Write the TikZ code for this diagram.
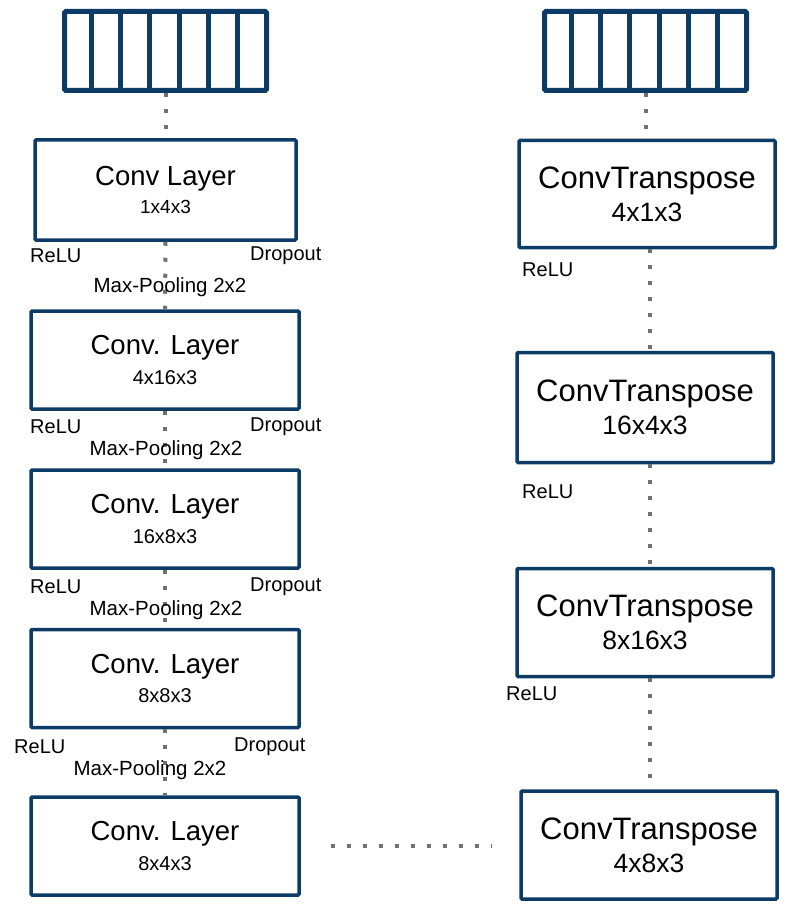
\documentclass[tikz,border=0pt]{standalone}
\usepackage{fontspec}
\setmainfont{Liberation Sans}
\usetikzlibrary{calc}
\definecolor{boxblue}{RGB}{12,59,102}
\definecolor{dotgray}{RGB}{112,112,112}
\begin{document}
\begin{tikzpicture}[x=1pt,y=-1pt,
  layerbox/.style={draw=boxblue,line width=3.5pt,rounded corners=1pt,fill=white,inner sep=0pt,align=center},
  lbox/.style={layerbox,minimum width=268pt,minimum height=98pt},
  rbox/.style={layerbox,minimum width=256pt,minimum height=107pt},
  arr/.style={draw=boxblue,line width=5pt,rounded corners=1.5pt,minimum width=202pt,minimum height=79pt,inner sep=0pt},
  dotline/.style={draw=dotgray,line width=4pt,dash pattern=on 4pt off 12pt},
  lbl/.style={font=\fontsize{20}{22}\selectfont,inner sep=0pt,anchor=west},
  mid/.style={font=\fontsize{20.5}{22}\selectfont,inner sep=0pt},
]
\path[use as bounding box] (0,0) rectangle (808,909);

% input arrays
\node[arr] (arrL) at (165.5,51) {};
\node[arr] (arrR) at (645.5,51) {};
\foreach \k in {1,...,6}{
  \draw[boxblue,line width=5pt] ($(arrL.north west)+(\k*29.3,0)$) -- ($(arrL.south west)+(\k*29.3,0)$);
  \draw[boxblue,line width=5pt] ($(arrR.north west)+(\k*29.3,0)$) -- ($(arrR.south west)+(\k*29.3,0)$);
}

% left column
\node[lbox,minimum width=261pt,minimum height=100pt] (c1) at (165.5,190) {\fontsize{27.5}{30}\selectfont Conv Layer\\[9pt]\fontsize{19}{22}\selectfont 1x4x3};
\node[lbox] (c2) at (165,360) {\fontsize{27.5}{30}\selectfont Conv. Layer\\[9pt]\fontsize{20}{22}\selectfont 4x16x3};
\node[lbox] (c3) at (165,519) {\fontsize{27.5}{30}\selectfont Conv. Layer\\[9pt]\fontsize{20}{22}\selectfont 16x8x3};
\node[lbox] (c4) at (165,678.5) {\fontsize{27.5}{30}\selectfont Conv. Layer\\[9pt]\fontsize{20}{22}\selectfont 8x8x3};
\node[lbox] (c5) at (165,846) {\fontsize{27.5}{30}\selectfont Conv. Layer\\[9pt]\fontsize{20}{22}\selectfont 8x4x3};

% right column
\node[rbox] (t1) at (647,194) {\fontsize{31}{34}\selectfont ConvTranspose\\[7pt]\fontsize{26.5}{28}\selectfont 4x1x3};
\node[rbox,minimum height=110pt] (t2) at (645,407.5) {\fontsize{31}{34}\selectfont ConvTranspose\\[7pt]\fontsize{26.5}{28}\selectfont 16x4x3};
\node[rbox,minimum height=108pt] (t3) at (645,622.5) {\fontsize{31}{34}\selectfont ConvTranspose\\[7pt]\fontsize{26.5}{28}\selectfont 8x16x3};
\node[rbox,minimum height=108pt] (t4) at (649,845) {\fontsize{31}{34}\selectfont ConvTranspose\\[7pt]\fontsize{26.5}{28}\selectfont 4x8x3};

% connector end points on the right column
\coordinate (t1s) at ($(t1.south)+(3,0)$);
\coordinate (t2s) at ($(t2.south)+(5,0)$);
\coordinate (t3s) at ($(t3.south)+(5,0)$);

% dotted connectors
\draw[dotline] (arrL.south) -- (c1.north);
\draw[dotline] (c1.south) -- (c2.north);
\draw[dotline] (c2.south) -- (c3.north);
\draw[dotline] (c3.south) -- (c4.north);
\draw[dotline] (c4.south) -- (c5.north);
\draw[dotline] (arrR.south) -- (arrR.south |- t1.north);
\draw[dotline] (t1s) -- (t1s |- t2.north);
\draw[dotline] (t2s) -- (t2s |- t3.north);
\draw[dotline] (t3s) -- (t3s |- t4.north);
\draw[dotline,shorten <=30pt,shorten >=28pt] (c5.east) -- (c5.east -| t4.west);

% left labels
\node[lbl] (r1) at (30,256) {ReLU};
\node[lbl] (d1) at (250,256) {Dropout};
\node[mid] (m1) at (170,287) {Max-Pooling 2x2};
\node[lbl] (r2) at (30,427) {ReLU};
\node[lbl] (d2) at (250,427) {Dropout};
\node[mid] (m2) at (166,450) {Max-Pooling 2x2};
\node[lbl] (r3) at (30,587) {ReLU};
\node[lbl] (d3) at (250,587) {Dropout};
\node[mid] (m3) at (166,610) {Max-Pooling 2x2};
\node[lbl] (r4) at (14,747) {ReLU};
\node[lbl] (d4) at (234,747) {Dropout};
\node[mid] (m4) at (150,770) {Max-Pooling 2x2};

% right labels
\node[lbl] (rr1) at (522,270) {ReLU};
\node[lbl] (rr2) at (522,492) {ReLU};
\node[lbl] (rr3) at (506,694) {ReLU};
\end{tikzpicture}
\end{document}
